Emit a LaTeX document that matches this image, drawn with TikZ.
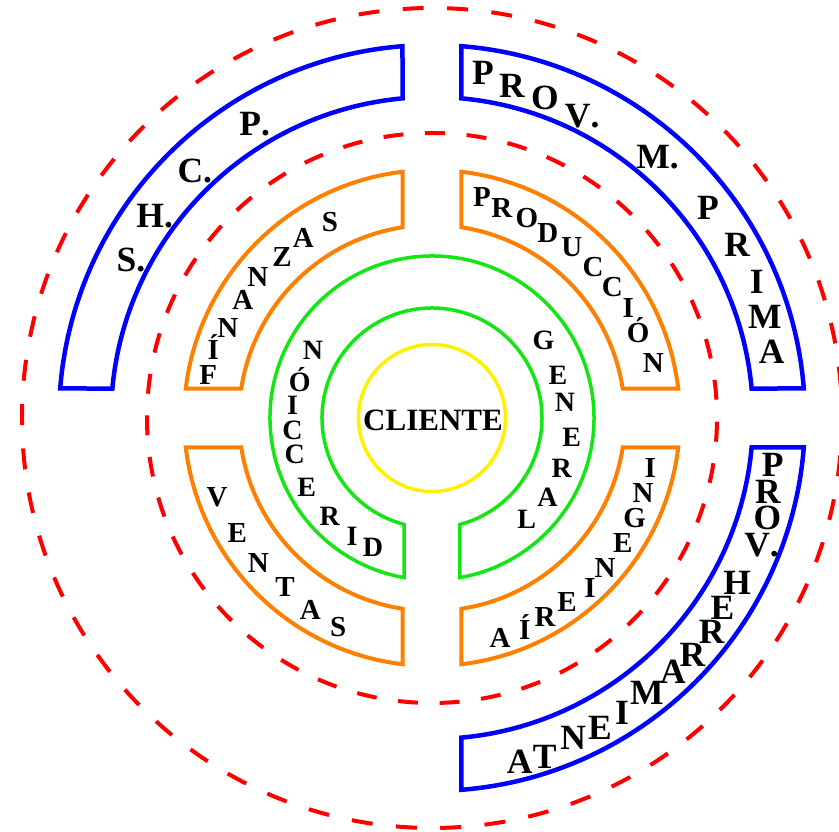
\documentclass[tikz,border=0pt]{standalone}
\usepackage{fontspec}
\setmainfont{Liberation Serif}
\definecolor{myblue}{RGB}{0,0,255}
\definecolor{myorange}{RGB}{255,128,0}
\definecolor{mygreen}{RGB}{20,230,20}
\definecolor{myyellow}{RGB}{255,240,0}
\definecolor{myred}{RGB}{255,0,0}
\tikzset{
  blueband/.style={draw=myblue, line width=4.5pt, line join=miter},
  orangeband/.style={draw=myorange, line width=4pt, line join=miter},
  greenband/.style={draw=mygreen, line width=3.5pt, line join=miter},
  yellowring/.style={draw=myyellow, line width=3.5pt},
  reddash/.style={draw=myred, line width=4pt},
  bigL/.style={font=\fontsize{35.5}{35.5}\selectfont\bfseries, inner sep=0pt, text height=23.5pt, text depth=0pt},
  midL/.style={font=\fontsize{29}{29}\selectfont\bfseries, inner sep=0pt, text height=19.2pt, text depth=0pt},
  grnL/.style={font=\fontsize{28}{28}\selectfont\bfseries, inner sep=0pt, text height=18.5pt, text depth=0pt},
  centerL/.style={font=\fontsize{31}{31}\selectfont\bfseries, inner sep=0pt, text height=20.5pt, text depth=0pt}
}
% quadrant band: #1 style, #2 inner r, #3 outer r, #4 base angle, #5 half gap
\newcommand\quadband[5]{%
  \pgfmathsetmacro\qbo{asin(#5/#3)}%
  \pgfmathsetmacro\qbi{asin(#5/#2)}%
  \pgfmathsetmacro\qsa{#4+\qbo}%
  \pgfmathsetmacro\qea{#4+90-\qbo}%
  \pgfmathsetmacro\qsb{#4+90-\qbi}%
  \pgfmathsetmacro\qeb{#4+\qbi}%
  \draw[#1] (\qsa:#3pt) arc[start angle=\qsa, end angle=\qea, radius=#3pt]
    -- (\qsb:#2pt) arc[start angle=\qsb, end angle=\qeb, radius=#2pt] -- cycle;
}
\begin{document}
\begin{tikzpicture}[x=1pt,y=1pt]
\useasboundingbox (-432,-414) rectangle (407,418);
% red dashed circles
\draw[reddash, dash pattern=on 21pt off 23.42pt, dash phase=13.9pt]
  (410,0) arc[start angle=0, end angle=360, radius=410pt];
\draw[reddash, dash pattern=on 20pt off 21.64pt, dash phase=23.3pt]
  (285,0) arc[start angle=0, end angle=360, radius=285pt];
% blue bands
\quadband{blueband}{321}{373}{0}{29.5}
\quadband{blueband}{321}{373}{90}{29.5}
\quadband{blueband}{321}{373}{270}{29.5}
% orange bands
\quadband{orangeband}{193}{248}{0}{29.5}
\quadband{orangeband}{193}{248}{90}{29.5}
\quadband{orangeband}{193}{248}{180}{29.5}
\quadband{orangeband}{193}{248}{270}{29.5}
% green ring with gap at the bottom
\pgfmathsetmacro\gsa{-90+asin(28/162)}
\pgfmathsetmacro\gea{270-asin(28/162)}
\pgfmathsetmacro\gsb{270-asin(28/110)}
\pgfmathsetmacro\geb{-90+asin(28/110)}
\draw[greenband] (\gsa:162pt) arc[start angle=\gsa, end angle=\gea, radius=162pt]
  -- (\gsb:110pt) arc[start angle=\gsb, end angle=\geb, radius=110pt] -- cycle;
% yellow circle
\draw[yellowring] (73.5,0) arc[start angle=0, end angle=360, radius=73.5pt];
\node[centerL] (cliente) at (1,-2) {CLIENTE};
% S.H.C.P.
\foreach \t/\a/\r [count=\i] in {{P\rlap{.}}/121.7/346, {C\rlap{.}}/134.3/346, {H\rlap{.}}/144.3/347, {S\rlap{.}}/152.6/344}
  \node[bigL] (shcp\i) at (\a:\r pt) {\t};
% PROV. M. PRIMA
\foreach \t/\a/\r [count=\i] in {P/81.6/349, R/76.5/342, O/70.6/340, {V\rlap{.}}/64.3/336, {M\rlap{.}}/49.7/342, P/37.3/347, R/29.6/351, I/22.7/352, M/16.9/348, A/11/346}
  \node[bigL] (pmp\i) at (\a:\r pt) {\t};
% PROV. HERRAMIENTA
\foreach \t/\a/\r [count=\i] in {P/-7.8/344, R/-12.4/344, O/-16.6/350, {V\rlap{.}}/-21.3/349, H/-28.4/347, E/-33.2/347, R/-37.4/352, R/-42.3/352, A/-46.5/350, M/-52/349, I/-57.2/351, E/-61.5/352, N/-66.2/350, T/-71.6/357, A/-75.7/355}
  \node[bigL] (phe\i) at (\a:\r pt) {\t};
% FINANZAS
\foreach \t/\a/\r [count=\i] in {F/169.1/228, Í/162.8/229, N/156.2/223, A/148/223, N/141/224, Z/133/220, A/125.6/221, S/117.5/221}
  \node[midL] (fin\i) at (\a:\r pt) {\t};
% PRODUCCIÓN
\foreach \t/\a/\r [count=\i] in {P/77.3/227, R/71.6/221, O/64.6/221, D/57.9/218, U/50.7/221, C/43.2/221, C/36/223, I/29.3/225, Ó/22.4/223, N/14/228}
  \node[midL] (pro\i) at (\a:\r pt) {\t};
% VENTAS
\foreach \t/\a/\r [count=\i] in {V/200.2/229, E/210.5/226, N/219.8/226, T/229/224, A/237.6/227, S/245.8/229}
  \node[midL] (ven\i) at (\a:\r pt) {\t};
% INGENIERÍA
\foreach \t/\a/\r [count=\i] in {I/-12.9/224, N/-19.6/224, G/-26.2/226, E/-33.2/228, N/-40.9/229, I/-47.1/232, E/-53.7/228, R/-60.4/229, Í/-66.3/231, A/-72.8/230}
  \node[midL] (ing\i) at (\a:\r pt) {\t};
% DIRECCIÓN
\foreach \t/\a/\r [count=\i] in {N/150.3/137, Ó/164.7/137, I/174.7/140, C/185/140, C/195/142, E/208.9/143, R/224/142, I/236/143, D/245.4/142}
  \node[grnL] (dir\i) at (\a:\r pt) {\t};
% GENERAL
\foreach \t/\a/\r [count=\i] in {G/35/136, E/18.8/133, N/6.9/134, E/-7.7/141, R/-21/139, A/-34.5/140, L/-47/139}
  \node[grnL] (gen\i) at (\a:\r pt) {\t};
\end{tikzpicture}
\end{document}
